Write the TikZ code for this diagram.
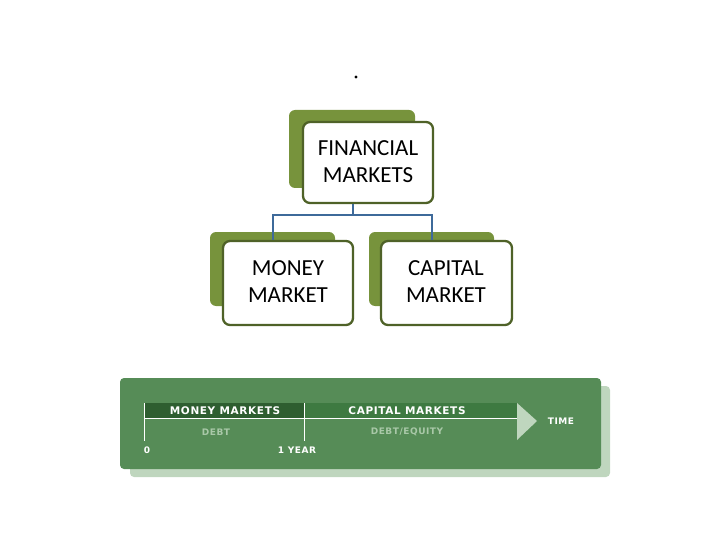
\documentclass[tikz,border=0pt]{standalone}
\usepackage{fontspec}
\setmainfont{Carlito}
\newfontfamily\bann[LetterSpace=6]{DejaVu Sans}
\definecolor{olive}{HTML}{77933C}
\definecolor{oliveb}{HTML}{4F6228}
\definecolor{lineb}{HTML}{3E6A9A}
\definecolor{bg}{HTML}{568C57}
\definecolor{shad}{HTML}{BFD6BE}
\definecolor{darkbar}{HTML}{2E5E30}
\definecolor{midbar}{HTML}{3E7A41}
\definecolor{subt}{HTML}{A9C8A8}
\tikzset{x=1pt,y=-1pt,
 back/.style={fill=olive,rounded corners=6pt},
 front/.style={draw=oliveb,line width=2.3pt,fill=white,rounded corners=7pt},
 lbl/.style={font=\fontsize{23}{27}\selectfont,align=center,text=black},
 bt/.style={font=\bann\bfseries\fontsize{10.5}{12}\selectfont,text=white},
 sm/.style={font=\bann\bfseries\fontsize{9}{11}\selectfont,text=white},
 st/.style={font=\bann\bfseries\fontsize{9}{11}\selectfont,text=subt},
 conn/.style={draw=lineb,line width=2pt}}
\begin{document}
\begin{tikzpicture}
\useasboundingbox (0,0) rectangle (720,540);
\fill (356,77) circle (1.6pt);
% boxes
\fill[back] (289,110) rectangle (415,188);
\draw[front] (303,122) rectangle (433,203);
\node[lbl] (fin) at (368,162) {FINANCIAL\\MARKETS};
\fill[back] (210,232) rectangle (335,306);
\draw[front] (223,241) rectangle (353,325);
\node[lbl] (mon) at (288,282) {MONEY\\MARKET};
\fill[back] (369,232) rectangle (494,306);
\draw[front] (381,241) rectangle (512,325);
\node[lbl] (cap) at (446,282) {CAPITAL\\MARKET};
\coordinate (fb) at (353,204);
\coordinate (ml) at (273,240);
\coordinate (cl) at (432,240);
\draw[conn] (fb) -- (353,215) -| (ml);
\draw[conn] (353,215) -| (cl);
% banner
\fill[shad,rounded corners=4pt] (130,386) rectangle (610,477);
\fill[bg,rounded corners=4pt] (120,378) rectangle (601,469);
\fill[darkbar] (144,403) rectangle (304,418);
\fill[midbar] (304,403) rectangle (517,418);
\fill[shad] (517,403) -- (537,421) -- (517,440) -- cycle;
\draw[white,line width=0.8pt] (144,418) -- (517,418);
\draw[white,line width=0.8pt] (144,403) -- (144,441);
\draw[white,line width=0.8pt] (304,403) -- (304,441);
\node[bt] (mm) at (225,411) {MONEY MARKETS};
\node[bt] (cm) at (407,411) {CAPITAL MARKETS};
\node[st] (debt) at (216,432) {DEBT};
\node[st] (de) at (407,432) {DEBT/EQUITY};
\node[sm] (z) at (147,450) {0};
\node[sm] (yr) at (297,450) {1 YEAR};
\node[sm] (tm) at (561,421) {TIME};
\end{tikzpicture}
\end{document}
